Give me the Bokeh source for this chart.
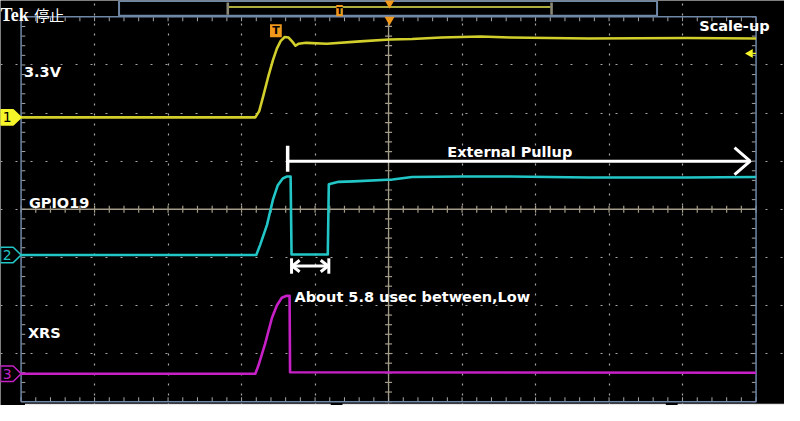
import numpy as np
from bokeh.plotting import figure
from bokeh.models import Range1d, FixedTicker, Grid
from bokeh.core.properties import value
from bokeh.embed import file_html
from bokeh.resources import INLINE

# ---------------- data (time & level in screen divisions, trigger at t=0) -------------
ch1_t = [-5.0, -1.813, -1.76, -1.707, -1.64, -1.573, -1.52, -1.467, -1.413, -1.36, -1.307,
         -1.267, -1.227, -1.12, -0.84, -0.387, 0.013, 0.32, 0.72, 1.253, 1.653, 2.72, 4.053, 5.0]
ch1_v = [1.91, 1.91, 2.04, 2.34, 2.74, 3.10, 3.34, 3.50, 3.58, 3.57, 3.48,
         3.40, 3.44, 3.46, 3.44, 3.49, 3.53, 3.54, 3.57, 3.59, 3.57, 3.55, 3.56, 3.55]

ch2_t = [-5.0, -1.8, -1.747, -1.653, -1.573, -1.507, -1.44, -1.387, -1.333, -1.32, -0.827,
         -0.813, -0.68, -0.48, 0.053, 0.32, 0.987, 1.653, 2.72, 4.053, 5.0]
ch2_v = [-0.95, -0.95, -0.74, -0.32, 0.20, 0.50, 0.64, 0.68, 0.68, -0.94, -0.94,
         0.52, 0.57, 0.58, 0.62, 0.67, 0.68, 0.68, 0.66, 0.66, 0.67]

ch3_t = [-5.0, -1.813, -1.773, -1.68, -1.587, -1.52, -1.453, -1.387, -1.347, -1.34, 5.0]
ch3_v = [-3.42, -3.42, -3.26, -2.80, -2.26, -2.00, -1.84, -1.80, -1.80, -3.39, -3.40]

ch_names = ["1", "2", "3"]
ch_offsets = [1.91, -0.95, -3.42]
ch_colors = ["#d2cf2c", "#22c6c6", "#c620c6"]
trig_level = 3.24

# graticule
x_div = [-5, -4, -3, -2, -1, 0, 1, 2, 3, 4, 5]
y_div = [-4, -3, -2, -1, 0, 1, 2, 3, 4]

# annotations
pullup_t0, pullup_t1, pullup_y = -1.373, 4.92, 1.0
low_t0, low_t1, low_y = -1.32, -0.813, -1.18

W, H = 784, 405
X0, X1 = -5.28, 5.387
Y0, Y1 = -4.08, 4.34

p = figure(width=W, height=H, x_range=Range1d(X0, X1), y_range=Range1d(Y0, Y1),
           output_backend="svg", toolbar_location=None, x_axis_type=None, y_axis_type=None,
           min_border=0, background_fill_color="black", border_fill_color="black",
           outline_line_color=None)
p.grid.visible = False

GRID = "#a6a6a6"
p.add_layout(Grid(dimension=0, ticker=FixedTicker(ticks=x_div[1:-1]), grid_line_color=GRID,
                  grid_line_dash="2 8", grid_line_width=1.2))
p.add_layout(Grid(dimension=1, ticker=FixedTicker(ticks=y_div[1:-1]), grid_line_color=GRID,
                  grid_line_dash="2 13", grid_line_width=1.2))

# crosshair
CROSS = "#a39c88"
p.segment(x0=[0, x_div[0]], y0=[y_div[0], 0], x1=[0, x_div[-1]], y1=[y_div[-1], 0],
          line_color=CROSS, line_width=1.3)
minor_x = np.arange(x_div[0], x_div[-1] + 0.001, 0.2)
minor_y = np.arange(y_div[0], y_div[-1] + 0.001, 0.2)
p.scatter(x=np.zeros_like(minor_y), y=minor_y, marker="dash", size=7, line_color=CROSS, line_width=1.2)
p.scatter(x=minor_x, y=np.zeros_like(minor_x), marker="dash", angle=np.pi / 2, size=7,
          line_color=CROSS, line_width=1.2)
# edge ticks
p.scatter(x=np.full_like(minor_y, x_div[0] + 0.03), y=minor_y, marker="dash", size=4, line_color=GRID)
p.scatter(x=np.full_like(minor_y, x_div[-1] - 0.03), y=minor_y, marker="dash", size=4, line_color=GRID)
p.scatter(x=minor_x, y=np.full_like(minor_x, y_div[-1] - 0.05), marker="dash", angle=np.pi / 2,
          size=4, line_color=GRID)
p.scatter(x=minor_x, y=np.full_like(minor_x, y_div[0] + 0.05), marker="dash", angle=np.pi / 2,
          size=4, line_color=GRID)

# border
BORDER = "#7088a8"
p.quad(left=x_div[0], right=x_div[-1], bottom=y_div[0], top=y_div[-1], fill_color=None,
       line_color=BORDER, line_width=1.5)

# bottom bars
p.quad(left=[-4.947, -0.627, 3.933], right=[-0.787, 3.773, 5.4], bottom=-4.1, top=-4.045,
       fill_color="#e6e6e6", line_color=None)

# top bar
p.quad(left=-3.667, right=3.653, bottom=4.025, top=4.33, fill_color="black",
       line_color=BORDER, line_width=2)
p.segment(x0=-2.18, y0=4.205, x1=2.205, y1=4.205, line_color="#e8e650", line_width=1.5)
p.quad(left=[-2.205, 2.2], right=[-2.17, 2.235], bottom=4.045, top=4.30,
       fill_color="#8c8878", line_color=None)
ORANGE = "#f0981c"
p.rect(x=-0.667, y=4.13, width=0.09, height=0.23, fill_color=ORANGE, line_color=None)
p.text(x=-0.667, y=4.12, text=["T"], text_color="black", text_font=value("DejaVu Sans"),
       text_font_style="bold", text_font_size="9px", text_align="center", text_baseline="middle")
p.scatter(x=[0.013, 0.013], y=[4.29, 3.94], marker="inverted_triangle", size=10,
          fill_color=ORANGE, line_color=None)
p.text(x=-5.28, y=4.04, text=["Tek"], text_color="white", text_font=value("Liberation Serif"),
       text_font_style="bold", text_font_size="18px", text_baseline="alphabetic")
p.text(x=-4.82, y=4.04, text=["停止"], text_color="white", text_font=value("Noto Sans CJK JP"),
       text_font_size="15px", text_baseline="alphabetic")

# traces
for t, v, c in zip([ch1_t, ch2_t, ch3_t], [ch1_v, ch2_v, ch3_v], ch_colors):
    p.line(t, v, line_color=c, line_width=2.6, line_join="round")

# trace trigger "T" marker
p.rect(x=-1.533, y=3.71, width=0.16, height=0.27, fill_color=ORANGE, line_color=None)
p.text(x=-1.533, y=3.72, text=["T"], text_color="black", text_font=value("DejaVu Sans"),
       text_font_style="bold", text_font_size="11px", text_align="center", text_baseline="middle")

# trigger level arrow (right)
p.scatter(x=[4.92], y=[trig_level], marker="triangle", angle=np.pi / 2, size=9,
          fill_color="#f5f52a", line_color=None)
p.segment(x0=4.95, y0=trig_level, x1=5.0, y1=trig_level, line_color="#f5f52a", line_width=1.2)

# channel ground markers
mx = [X0, -5.107, -5.0, -5.107, X0]
my = [0.16, 0.16, 0.0, -0.16, -0.16]
fills = ["#f5f52a", "black", "black"]
lines = ["#f5f52a", ch_colors[1], ch_colors[2]]
tcols = ["black", ch_colors[1], ch_colors[2]]
p.patches(xs=[mx] * 3, ys=[[o + d for d in my] for o in ch_offsets], fill_color=fills,
          line_color=lines, line_width=1.5)
p.text(x=[-5.19] * 3, y=ch_offsets, text=ch_names, text_color=tcols,
       text_font=value("DejaVu Sans"), text_font_size="14px", text_align="center",
       text_baseline="middle")

# labels
FONT = value("DejaVu Sans")
lab_x = [-4.96, -4.893, -4.907, 0.8, -1.28, 4.227]
lab_y = [2.86, 0.12, -2.58, 1.18, -1.82, 3.80]
lab_t = ["3.3V", "GPIO19", "XRS", "External Pullup", "About 5.8 usec between,Low", "Scale-up"]
p.text(x=lab_x, y=lab_y, text=lab_t, text_color="white", text_font=FONT, text_font_style="bold",
       text_font_size="14.5px", text_baseline="alphabetic")

# External pullup arrow
WHITE = "white"
p.segment(x0=pullup_t0, y0=pullup_y, x1=pullup_t1, y1=pullup_y, line_color=WHITE, line_width=3)
p.segment(x0=pullup_t0, y0=0.78, x1=pullup_t0, y1=1.32, line_color=WHITE, line_width=3.5)
p.line(x=[pullup_t1 - 0.213, pullup_t1, pullup_t1 - 0.213], y=[1.28, pullup_y, 0.72],
       line_color=WHITE, line_width=3)

# low-width double arrow
p.segment(x0=low_t0, y0=low_y, x1=low_t1, y1=low_y, line_color=WHITE, line_width=3)
p.segment(x0=[low_t0, low_t1], y0=[-1.02, -1.02], x1=[low_t0, low_t1], y1=[-1.34, -1.34],
          line_color=WHITE, line_width=3)
p.multi_line(xs=[[low_t0 + 0.11, low_t0 + 0.01, low_t0 + 0.11],
                 [low_t1 - 0.11, low_t1 - 0.01, low_t1 - 0.11]],
             ys=[[low_y + 0.12, low_y, low_y - 0.12]] * 2, line_color=WHITE, line_width=3)

open("out.html", "w").write(file_html(p, INLINE))
